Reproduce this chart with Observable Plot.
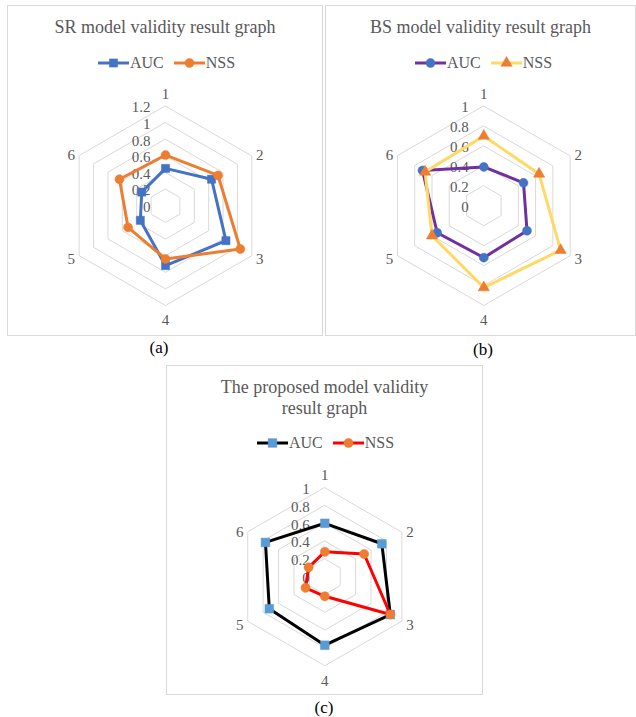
<!DOCTYPE html>
<html>
<head>
<meta charset="utf-8">
<script src="https://cdn.jsdelivr.net/npm/d3@7"></script>
<script src="https://cdn.jsdelivr.net/npm/@observablehq/plot@0.6"></script>
<style>
  body { margin: 0; width: 636px; height: 717px; background: #fff; position: relative; overflow: hidden;
         font-family: "Liberation Serif", "Times New Roman", serif; }
  .panel { position: absolute; box-sizing: border-box; border: 1px solid #d9d9d9; }
  .title { position: absolute; text-align: center; color: #595959; font-size: 18px; line-height: 21px; }
  .legend { position: absolute; display: flex; align-items: center; color: #595959; font-size: 16px; line-height: 20px; height: 20px; }
  .legend .item { display: flex; align-items: center; margin-right: 10px; }
  .legend svg { display: block; margin-right: 1px; }
  .caption { position: absolute; font-size: 17px; line-height: 20px; color: #000; transform: translateX(-50%); }
  .chart { position: absolute; }
</style>
</head>
<body>
<script>
// Spoke labels shared by all three radars
const axes = ["1", "2", "3", "4", "5", "6"];

// SR model
const srAUC = [0.45, 0.64, 0.84, 0.72, 0.35, 0.33];
const srNSS = [0.61, 0.73, 1.04, 0.64, 0.52, 0.64];
const srTicks = [0, 0.2, 0.4, 0.6, 0.8, 1, 1.2];

// BS model
const bsAUC = [0.39, 0.46, 0.50, 0.52, 0.54, 0.71];
const bsNSS = [0.70, 0.64, 0.89, 0.82, 0.60, 0.68];
const bsTicks = [0, 0.2, 0.4, 0.6, 0.8, 1];

// Proposed model
const pmAUC = [0.60, 0.74, 0.85, 0.77, 0.72, 0.77];
const pmNSS = [0.28, 0.51, 0.85, 0.22, 0.25, 0.21];
const pmTicks = [0, 0.2, 0.4, 0.6, 0.8, 1];

const panels = [
  {
    box: {left: 7, top: 5, width: 316, height: 331},
    title: ["SR model validity result graph"], titleTop: 17,
    legendLeft: 98, legendTop: 53,
    caption: "(a)", captionX: 159, captionTop: 338,
    svg: {left: 8, top: 80, width: 314, height: 252},
    center: [165, 205.3], radius: 99.7, ticks: srTicks,
    series: [
      {name: "AUC", values: srAUC, line: "#4472C4", marker: "#4472C4", symbol: "square", r: 4.6},
      {name: "NSS", values: srNSS, line: "#ED7D31", marker: "#ED7D31", symbol: "circle", r: 4.5}
    ]
  },
  {
    box: {left: 325, top: 5, width: 311, height: 331},
    title: ["BS model validity result graph"], titleTop: 17,
    legendLeft: 415, legendTop: 53,
    caption: "(b)", captionX: 483, captionTop: 340,
    svg: {left: 326, top: 80, width: 309, height: 252},
    center: [483.3, 205.3], radius: 99.7, ticks: bsTicks,
    series: [
      {name: "AUC", values: bsAUC, line: "#7030A0", marker: "#4472C4", symbol: "circle", r: 4.5},
      {name: "NSS", values: bsNSS, line: "#FFD966", marker: "#ED7D31", symbol: "triangle", r: 4.2}
    ]
  },
  {
    box: {left: 166, top: 365, width: 317, height: 330},
    title: ["The proposed model validity", "result graph"], titleTop: 377,
    legendLeft: 257, legendTop: 433,
    caption: "(c)", captionX: 324, captionTop: 698,
    svg: {left: 167, top: 460, width: 315, height: 233},
    center: [324.3, 576.2], radius: 89, ticks: pmTicks,
    series: [
      {name: "AUC", values: pmAUC, line: "#000000", marker: "#5B9BD5", symbol: "square", r: 4.9},
      {name: "NSS", values: pmNSS, line: "#FF0000", marker: "#ED7D31", symbol: "circle", r: 4.6}
    ]
  }
];

const symbolTypes = {square: d3.symbolSquare, circle: d3.symbolCircle, triangle: d3.symbolTriangle};

function el(tag, cls, parent) {
  const e = document.createElement(tag);
  if (cls) e.className = cls;
  (parent || document.body).appendChild(e);
  return e;
}

function radar(p) {
  const {left, top, width: W, height: H} = p.svg;
  const rmax = d3.max(p.ticks);
  const k = p.radius / rmax;               // pixels per unit
  const cx = p.center[0] - left, cy = p.center[1] - top;
  const ang = i => i * Math.PI / 3;        // clockwise from the top spoke
  const px = (v, i) => v * Math.sin(ang(i));
  const py = (v, i) => v * Math.cos(ang(i));

  // label offsets (screen pixels) just outside each outer vertex
  const offX = i => { const s = Math.sin(ang(i)); return Math.abs(s) < 1e-6 ? 0 : Math.sign(s) * 8; };
  const offY = i => { const c = Math.cos(ang(i)); return c > 0.99 ? -12.3 : c < -0.99 ? 15 : c > 0 ? -0.5 : 3.9; };

  const rings = p.ticks.filter(t => t > 0).flatMap(t => axes.map((a, i) => ({t, i})));
  const rows = vals => vals.map((v, i) => ({i, v}));

  const marks = [
    Plot.line(rings, {x: d => px(d.t, d.i), y: d => py(d.t, d.i), z: "t", curve: "linear-closed",
                      stroke: "#d9d9d9", strokeWidth: 1}),
    Plot.text(p.ticks, {x: () => 0, y: d => d, text: d => String(d), textAnchor: "end",
                        dx: -15, dy: 1.5, fill: "#595959", fontSize: 15}),
    Plot.text(axes, {x: (d, i) => px(rmax, i) + offX(i) / k, y: (d, i) => py(rmax, i) - offY(i) / k,
                     text: d => d, fill: "#595959", fontSize: 15})
  ];
  for (const s of p.series) {
    const data = rows(s.values);
    marks.push(Plot.line(data, {x: d => px(d.v, d.i), y: d => py(d.v, d.i), curve: "linear-closed",
                                stroke: s.line, strokeWidth: 3, strokeLinejoin: "round"}));
    marks.push(Plot.dot(data, {x: d => px(d.v, d.i), y: d => py(d.v, d.i), symbol: s.symbol, r: s.r,
                               fill: s.marker, stroke: s.marker, strokeWidth: 0.5}));
  }

  return Plot.plot({
    width: W, height: H, margin: 0,
    x: {domain: [-cx / k, (W - cx) / k], axis: null},
    y: {domain: [-(H - cy) / k, cy / k], axis: null},
    style: {fontFamily: "'Liberation Serif', 'Times New Roman', serif", fontSize: "15px", background: "transparent", overflow: "visible"},
    marks
  });
}

function legendSwatch(s) {
  const svg = d3.create("svg").attr("width", 31).attr("height", 20);
  svg.append("line").attr("x1", 0).attr("x2", 31).attr("y1", 10).attr("y2", 10)
    .attr("stroke", s.line).attr("stroke-width", 3);
  svg.append("path").attr("transform", "translate(15.5,10)")
    .attr("d", d3.symbol(symbolTypes[s.symbol], Math.PI * s.r * s.r)())
    .attr("fill", s.marker).attr("stroke", s.marker).attr("stroke-width", 0.5);
  return svg.node();
}

for (const p of panels) {
  const box = el("div", "panel");
  Object.assign(box.style, {left: p.box.left + "px", top: p.box.top + "px",
                            width: p.box.width + "px", height: p.box.height + "px"});

  const title = el("div", "title");
  Object.assign(title.style, {left: p.box.left + "px", width: p.box.width + "px", top: p.titleTop + "px"});
  title.innerHTML = p.title.join("<br>");

  const lg = el("div", "legend");
  Object.assign(lg.style, {left: p.legendLeft + "px", top: p.legendTop + "px"});
  for (const s of p.series) {
    const item = el("div", "item", lg);
    item.appendChild(legendSwatch(s));
    el("span", null, item).textContent = s.name;
  }

  const holder = el("div", "chart");
  Object.assign(holder.style, {left: p.svg.left + "px", top: p.svg.top + "px"});
  holder.appendChild(radar(p));

  const cap = el("div", "caption");
  Object.assign(cap.style, {left: p.captionX + "px", top: p.captionTop + "px"});
  cap.textContent = p.caption;
}
</script>
</body>
</html>
